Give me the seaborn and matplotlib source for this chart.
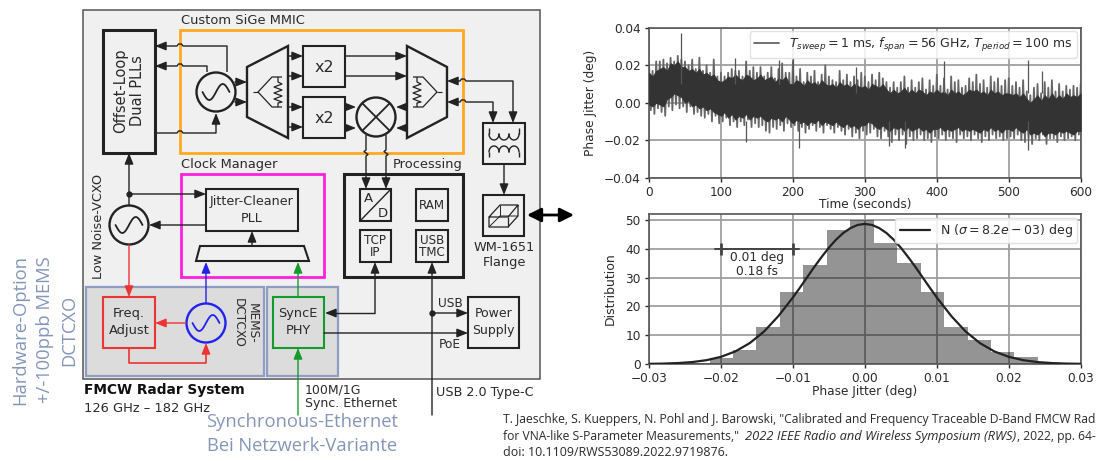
# FMCW radar block diagram with phase jitter measurement plots

import numpy as np
import matplotlib
matplotlib.use("Agg")
import matplotlib.pyplot as plt
import seaborn as sns
from matplotlib.patches import Circle, Polygon, Rectangle


# Phase jitter over time, upper and lower edge every 5 seconds
jitter_time = np.arange(0, 605, 5)
jitter_hi = [
    .021, .017, .022, .022, .023, .021, .024, .022, .025, .023,
    .022, .020, .023, .018, .024, .017, .020, .016, .023, .014,
    .016, .014, .016, .018, .017, .017, .014, .022, .017, .019,
    .016, .019, .014, .016, .019, .013, .018, .021, .016, .016,
    .022, .014, .018, .011, .016, .014, .017, .011, .015, .020,
    .014, .012, .011, .017, .012, .015, .011, .014, .012, .016,
    .014, .011, .015, .012, .016, .013, .011, .008, .011, .008,
    .011, .014, .008, .012, .008, .011, .013, .007, .012, .009,
    .015, .009, .013, .007, .014, .011, .012, .008, .009, .013,
    .011, .015, .010, .012, .008, .014, .011, .013, .009, .012,
    .013, .009, .011, .008, .012, .006, .004, .008, .010, .005,
    .011, .008, .012, .006, .010, .006, .009, .007, .009, .008,
    .010,
]
jitter_lo = [
    -.004, -.006, -.003, -.005, -.007, -.002, -.004, -.001, -.003, -.002,
    -.005, -.002, -.006, -.005, -.007, -.008, -.006, -.010, -.007, -.011,
    -.010, -.008, -.012, -.010, -.013, -.010, -.012, -.009, -.013, -.011,
    -.013, -.012, -.015, -.016, -.013, -.014, -.012, -.015, -.011, -.013,
    -.012, -.015, -.013, -.016, -.014, -.012, -.015, -.013, -.016, -.012,
    -.014, -.016, -.013, -.015, -.017, -.014, -.018, -.016, -.019, -.015,
    -.017, -.016, -.014, -.018, -.019, -.015, -.018, -.021, -.017, -.020,
    -.017, -.022, -.018, -.020, -.019, -.017, -.020, -.019, -.021, -.018,
    -.019, -.017, -.020, -.018, -.019, -.021, -.017, -.019, -.018, -.020,
    -.017, -.019, -.021, -.018, -.020, -.017, -.019, -.018, -.020, -.019,
    -.018, -.019, -.017, -.020, -.021, -.019, -.022, -.019, -.020, -.017,
    -.022, -.019, -.019, -.021, -.018, -.020, -.019, -.018, -.020, -.017,
    -.019,
]

# Dark core of the trace, same time steps
core_hi = [
    .016, .014, .017, .018, .019, .017, .021, .020, .022, .019,
    .019, .017, .018, .016, .018, .015, .016, .014, .015, .012,
    .011, .012, .014, .013, .015, .013, .012, .015, .014, .012,
    .013, .015, .012, .013, .014, .011, .013, .012, .014, .010,
    .010, .012, .011, .009, .012, .010, .011, .009, .012, .010,
    .009, .010, .008, .011, .009, .010, .008, .010, .009, .008,
    .009, .007, .010, .009, .008, .010, .007, .005, .007, .005,
    .006, .008, .005, .007, .005, .007, .006, .004, .006, .005,
    .007, .005, .006, .004, .007, .005, .006, .004, .005, .007,
    .006, .007, .005, .006, .004, .007, .005, .006, .004, .005,
    .005, .004, .005, .003, .005, .002, .000, .002, .004, .001,
    .004, .002, .005, .002, .004, .002, .005, .003, .004, .003,
    .005,
]
core_lo = [
    -.001, -.002, .000, -.001, -.002, .002, .003, .005, .004, .003,
    .000, .001, -.002, -.001, -.003, -.002, -.004, -.003, -.005, -.006,
    -.007, -.005, -.008, -.006, -.009, -.007, -.008, -.006, -.009, -.007,
    -.008, -.007, -.009, -.010, -.008, -.009, -.008, -.010, -.007, -.009,
    -.011, -.009, -.011, -.010, -.012, -.010, -.011, -.009, -.012, -.010,
    -.011, -.012, -.010, -.012, -.013, -.011, -.013, -.012, -.014, -.012,
    -.012, -.010, -.011, -.013, -.014, -.012, -.014, -.015, -.013, -.014,
    -.013, -.015, -.013, -.015, -.014, -.013, -.015, -.014, -.016, -.014,
    -.014, -.013, -.015, -.014, -.015, -.014, -.013, -.015, -.014, -.015,
    -.014, -.015, -.016, -.014, -.015, -.013, -.015, -.014, -.016, -.014,
    -.014, -.015, -.013, -.015, -.016, -.014, -.017, -.016, -.017, -.015,
    -.018, -.016, -.016, -.017, -.015, -.016, -.015, -.016, -.017, -.015,
    -.015,
]

# Single outliers
spike_time = [44, 120, 135, 180, 200, 208, 288, 333, 356, 410, 527, 527, 546]
spike_base = [.01, .01, -.01, .01, .01, -.01, .005, -.01, -.01, .005, .005, -.01, .005]
spike_peak = [.037, .024, -.021, .023, .024, -.024, .019, -.023, -.024, .022, .023, -.025, .017]

# Histogram of the phase jitter
bin_edges = [round(0.00123 + 0.00326 * k, 5) for k in range(-8, 9)]
bin_heights = [0.5, 2, 5, 13, 25, 34.5, 46.5, 50, 42, 35, 25, 13, 8.5, 4, 2.3, 0.3]

# Fitted normal curve
curve_x = [-.030, -.028, -.026, -.024, -.022, -.020, -.018, -.016, -.014, -.012,
           -.010, -.009, -.008, -.007, -.006, -.005, -.004, -.003, -.002, -.001,
           0, .001, .002, .003, .004, .005, .006, .007, .008, .009, .010,
           .012, .014, .016, .018, .020, .022, .024, .026, .028, .030]
curve_y = [.06, .14, .32, .67, 1.33, 2.49, 4.37, 7.25, 11.3, 16.7,
           23.1, 26.6, 30.2, 33.8, 37.2, 40.4, 43.2, 45.5, 47.2, 48.3,
           48.65, 48.3, 47.2, 45.5, 43.2, 40.4, 37.2, 33.8, 30.2, 26.6, 23.1,
           16.7, 11.3, 7.25, 4.37, 2.49, 1.33, .67, .32, .14, .06]

time_ticks = [0, 100, 200, 300, 400, 500, 600]
jitter_ticks = [-0.04, -0.02, 0.00, 0.02, 0.04]
phase_ticks = [-0.03, -0.02, -0.01, 0.00, 0.01, 0.02, 0.03]
dist_ticks = [0, 10, 20, 30, 40, 50]

W, H = 1097, 461
DARK = "#222222"
RED = "#ee3333"
BLUE = "#2222ee"
GREEN = "#159a2c"
ORANGE = "#ffa91f"
PINK = "#ff1fe0"
PANEL = "#8f9dc2"
SLATE = "#8496b8"
TEXT = "#2a2a2a"

sns.set_theme(style="whitegrid", rc={
    "axes.edgecolor": "#555555",
    "axes.linewidth": 1.2,
    "grid.color": "#a0a0a0",
    "grid.linewidth": 1.3,
    "xtick.bottom": True,
    "ytick.left": True,
    "xtick.color": TEXT,
    "ytick.color": TEXT,
    "axes.labelcolor": TEXT,
    "text.color": TEXT,
})
plt.rcParams["font.family"] = ["DejaVu Sans"]
plt.rcParams["mathtext.fontset"] = "dejavusans"

fig = plt.figure(figsize=(W / 100, H / 100), dpi=100)


def chart_axes(left, top, right, bottom):
    return fig.add_axes([left / W, 1 - bottom / H, (right - left) / W, (bottom - top) / H])


# Block diagram, drawn on a full figure axes in pixel units
dia = fig.add_axes([0, 0, 1, 1])
dia.set_xlim(0, W)
dia.set_ylim(H, 0)
dia.axis("off")


def box(x0, y0, x1, y1, color=DARK, lw=1.5, fill="none", z=2):
    dia.add_patch(Rectangle((x0, y0), x1 - x0, y1 - y0, fc=fill, ec=color, lw=lw, zorder=z))


def wire(points, color=DARK, lw=1.0):
    xs, ys = zip(*points)
    dia.plot(xs, ys, color=color, lw=lw, zorder=3, solid_capstyle="butt")


def arrow(x0, y0, x1, y1, color=DARK, lw=1.0):
    dia.annotate("", xy=(x1, y1), xytext=(x0, y0), zorder=4, arrowprops=dict(
        arrowstyle="-|>,head_length=0.55,head_width=0.22",
        color=color, lw=lw, shrinkA=0, shrinkB=0))


def hop_x(x, y):
    # small bump where a horizontal wire crosses a box edge
    return [(x + 3, y), (x + 1.5, y - 2), (x - 1.5, y - 2), (x - 3, y)]


def hop_y(x, y):
    return [(x, y - 3), (x - 2, y - 1.5), (x + 2, y + 1.5), (x, y + 3)]


def oscillator(cx, cy, color=DARK, r=19.5):
    dia.add_patch(Circle((cx, cy), r, fc="none", ec=color, lw=1.7, zorder=3))
    sx = np.linspace(-13.5, 13.5, 40)
    dia.plot(cx + sx, cy - 8 * np.sin(sx / 13.5 * np.pi), color=color, lw=1.3, zorder=3)


def label(x, y, s, size=9.2, ha="center", va="center", **kw):
    dia.text(x, y, s, fontsize=size, ha=ha, va=va, zorder=5, color=kw.pop("color", TEXT),
             linespacing=kw.pop("linespacing", 1.1), **kw)


def divider(tip, ox, sign):
    # Wilkinson symbol inside the splitter and combiner
    inner = ox + sign * 14
    outer = ox + sign * 24
    wire([(ox - sign * 5, 92), (ox, 92)], lw=0.8)
    wire([(outer, 77), (inner, 77), (ox, 92), (inner, 107), (outer, 107)], lw=0.9)
    wire([(tip, 77), (tip, 82), (tip + 4, 84), (tip - 4, 87), (tip + 4, 90), (tip - 4, 93),
          (tip + 4, 96), (tip - 4, 99), (tip + 4, 102), (tip, 103), (tip, 107)], lw=0.9)


# Outer panel
box(83, 10, 539.5, 379, color="#555555", lw=1.1, fill="#f0f0f0", z=1)
box(86, 287, 264, 376, color=PANEL, lw=1.6, fill="#dcdcdc", z=1)
box(267, 287, 338, 376, color=PANEL, lw=1.6, fill="#dcdcdc", z=1)

# Frequency generation
box(180, 30, 463, 153, color=ORANGE, lw=2)
box(103, 30, 155, 153, lw=2.2)
label(129, 91, "Offset-Loop\nDual PLLs", size=10.5, rotation=90)
label(181, 20, "Custom SiGe MMIC", ha="left", size=9.4)
label(181, 164, "Clock Manager", ha="left", size=9.4)
label(463, 164, "Processing", ha="right", size=9.4)

oscillator(216, 92)
wire([(227, 72), (227, 46), *hop_x(180, 46), (165, 46)])
arrow(165, 46, 155, 46)
wire([(207, 72), (207, 66), *hop_x(180, 66), (165, 66)])
arrow(165, 66, 155, 66)
wire([(155, 133), *hop_x(180, 133)[::-1], (216, 133), (216, 125)])
arrow(216, 125, 216, 113)
arrow(235, 82, 247, 82)
arrow(235, 102, 247, 102)

dia.add_patch(Polygon([(247, 67), (288, 46), (288, 138), (247, 117)], fc="none", ec=DARK, lw=1.7, zorder=3))
dia.add_patch(Polygon([(407, 46), (447, 67), (447, 117), (407, 138)], fc="none", ec=DARK, lw=1.7, zorder=3))
divider(278, 258, 1)
divider(417, 437, -1)

box(303, 46, 345, 87)
box(303, 97, 345, 138)
label(324, 67, "x2", size=11.5)
label(324, 118, "x2", size=11.5)
for y in [56, 76, 107, 127]:
    arrow(288, y, 303, y)
arrow(345, 56, 407, 56)
arrow(345, 76, 407, 76)
arrow(345, 107, 356, 107)
arrow(345, 128, 356, 128)
arrow(407, 107, 396, 107)
arrow(407, 128, 396, 128)

# Mixer
dia.add_patch(Circle((376, 117), 19.5, fc="none", ec=DARK, lw=1.7, zorder=3))
wire([(362, 103), (390, 131)], lw=1.3)
wire([(362, 131), (390, 103)], lw=1.3)
for x in [366, 386]:
    wire([(x, 135), *hop_y(x, 153), (x, 178)])
    arrow(x, 178, x, 189)

# LO port and transformer
wire([(457, 81), *hop_x(463, 81)[::-1], (513, 81), (513, 112)])
arrow(457, 81, 447, 81)
arrow(513, 112, 513, 123)
wire([(457, 102), *hop_x(463, 102)[::-1], (493, 102), (493, 112)])
arrow(457, 102, 447, 102)
arrow(493, 112, 493, 123)
box(483, 123, 525, 164)
arc = np.linspace(0, np.pi, 16)
for x in [494, 504, 514]:
    dia.plot(x + 5 * np.cos(arc), 134 + 6 * np.sin(arc), color=DARK, lw=1.0, zorder=3)
    dia.plot(x + 5 * np.cos(arc), 152 - 6 * np.sin(arc), color=DARK, lw=1.0, zorder=3)
wire([(489, 128), (489, 134)])
wire([(519, 128), (519, 134)])
wire([(489, 152), (489, 157)])
wire([(519, 152), (519, 157)])
arrow(504, 164, 504, 195)

# Waveguide flange
box(483, 195, 524, 236)
wire([(489, 217), (500, 205), (518, 205), (508, 217), (489, 217), (489, 227), (508, 227),
      (518, 216), (518, 205)], lw=0.9)
wire([(508, 217), (508, 227)], lw=0.9)
wire([(489, 227), (500, 216), (518, 216)], lw=0.7)
wire([(500, 205), (500, 216)], lw=0.7)
label(504, 255, "WM-1651\nFlange", size=9.3, linespacing=1.25)
dia.annotate("", xy=(574, 215), xytext=(527, 215), zorder=4, arrowprops=dict(
    arrowstyle="<|-|>,head_length=0.7,head_width=0.35", color="black", lw=2.0, shrinkA=0, shrinkB=0))

# Clock manager
box(181, 174, 324, 277, color=PINK, lw=2)
box(206, 189, 298, 231)
label(252, 210, "Jitter-Cleaner\nPLL", size=9.2, linespacing=1.35)
dia.add_patch(Polygon([(196, 261), (200, 246), (304, 246), (309, 261)], fc="none", ec=DARK, lw=1.5, zorder=3))
arrow(252, 246, 252, 231)
oscillator(129, 225)
arrow(129, 205, 129, 153)
dia.plot([129], [194], "o", color=DARK, ms=3.5, zorder=4)
arrow(129, 194, 206, 194)
arrow(206, 225, 149, 225)
label(99, 226, "Low Noise-VCXO", size=9.3, rotation=90)

# Hardware option
arrow(129, 245, 129, 297, color=RED)
box(103, 297, 155, 348, color=RED, lw=1.5)
label(129, 322, "Freq.\nAdjust", size=9.4, linespacing=1.35)
oscillator(206, 323, color=BLUE)
arrow(186, 323, 155, 323, color=RED)
wire([(129, 348), (129, 363), (206, 363), (206, 352)], color=RED, lw=1.2)
arrow(206, 352, 206, 343, color=RED)
arrow(206, 303, 206, 262, color=BLUE)
label(245, 323, "MEMS-\nDCTCXO", size=8.7, rotation=-90)

# Sync ethernet
box(273, 297, 324, 348, color=GREEN, lw=1.5)
label(298, 322, "SyncE\nPHY", size=9.3, linespacing=1.35)
arrow(298, 297, 298, 262, color=GREEN)
arrow(298, 415, 298, 348, color=GREEN)

# Processing
box(344, 174, 463, 277, lw=2.2)
box(360, 189, 391, 221)
wire([(360, 221), (391, 189)])
label(368, 198, "A", size=9.5)
label(383, 213, "D", size=9.5)
box(416, 189, 448, 221)
label(432, 205, "RAM", size=8.6)
box(360, 230, 391, 262)
label(375.5, 246, "TCP\nIP", size=8.6, linespacing=0.9)
box(416, 230, 448, 262)
label(432, 246, "USB\nTMC", size=8.6, linespacing=0.9)

# Power and external connections
box(468, 297, 519, 348)
label(493.5, 322, "Power\nSupply", size=9, linespacing=1.35)
arrow(375, 313, 375, 262)
wire([(375, 313), (335, 313)])
arrow(335, 313, 325, 313)
arrow(432, 415, 432, 262)
dia.plot([432], [313], "o", color=DARK, ms=3.5, zorder=4)
arrow(432, 313, 468, 313)
arrow(324, 333, 468, 333)
label(450, 303, "USB", size=8.7)
label(450, 344, "PoE", size=8.7)

# Captions below the panel
label(84, 390, "FMCW Radar System", ha="left", size=9.9, fontweight="bold", color="#111111")
label(84, 408, "126 GHz – 182 GHz", ha="left", size=9.4)
label(305, 390, "100M/1G", ha="left", size=9)
label(305, 403, "Sync. Ethernet", ha="left", size=9)
label(436, 392, "USB 2.0 Type-C", ha="left", size=9.2)

label(302, 422, "Synchronous-Ethernet", size=13.2, family="Open Sans", color=SLATE)
label(302, 446, "Bei Netzwerk-Variante", size=13.2, family="Open Sans", color=SLATE)
label(20, 330, "Hardware-Option", size=13.2, family="Open Sans", color=SLATE, rotation=90)
label(45, 330, "+/-100ppb MEMS", size=13.2, family="Open Sans", color=SLATE, rotation=90)
label(69, 330, "DCTCXO", size=13.2, family="Open Sans", color=SLATE, rotation=90)

# Citation, the first two lines run off the page
label(503, 419, 'T. Jaeschke, S. Kueppers, N. Pohl and J. Barowski, "Calibrated and Frequency Traceable D-Band FMCW Rad',
      ha="left", size=8.7, family="Open Sans")
label(503, 436, 'for VNA-like S-Parameter Measurements,"', ha="left", size=8.7, family="Open Sans")
label(745, 436, "2022 IEEE Radio and Wireless Symposium (RWS)", ha="left", size=9.3,
      family="Open Sans", style="italic")
label(1017, 436, ", 2022, pp. 64-", ha="left", size=8.7, family="Open Sans")
label(503, 452, "doi: 10.1109/RWS53089.2022.9719876.", ha="left", size=8.9, family="Open Sans")


# Phase jitter over time
ax_time = chart_axes(649, 27.7, 1080.7, 177.7)
zig_x = np.ravel(np.column_stack([jitter_time, jitter_time + 2.5]))[:-1]
zig_y = np.ravel(np.column_stack([jitter_hi, jitter_lo]))[:-1]
sns.lineplot(
    x=zig_x, y=zig_y, ax=ax_time, sort=False, estimator=None,
    color="#666666", linewidth=1.3,
    label=r"$T_{sweep} = 1$ ms, $f_{span} = 56$ GHz, $T_{period} = 100$ ms",
)
ax_time.fill_between(jitter_time, core_lo, core_hi, color="#333333", lw=0.6, zorder=3)
ax_time.vlines(spike_time, spike_base, spike_peak, color="#555555", lw=0.9, zorder=3)
ax_time.set_xlim(0, 600)
ax_time.set_ylim(-0.04, 0.04)
ax_time.set_xticks(time_ticks)
ax_time.set_yticks(jitter_ticks)
ax_time.set_yticklabels(["−0.04", "−0.02", "0.00", "0.02", "0.04"])
ax_time.tick_params(labelsize=8.7, length=3, pad=3, width=1)
ax_time.set_xlabel("Time (seconds)", fontsize=8.7, labelpad=-0.5)
ax_time.set_ylabel("Phase Jitter (deg)", fontsize=8.8, labelpad=5)
ax_time.legend(loc="upper right", fontsize=9, frameon=True, framealpha=0.85, edgecolor="#dddddd",
               borderaxespad=0.3, handlelength=2, borderpad=0.35, labelcolor=TEXT)

# Histogram with the normal fit
ax_hist = chart_axes(649, 214, 1080.7, 364)
bin_centers = [(a + b) / 2 for a, b in zip(bin_edges[:-1], bin_edges[1:])]
sns.histplot(
    x=bin_centers, weights=bin_heights, bins=bin_edges, ax=ax_hist,
    color="black", alpha=0.42, linewidth=0, zorder=2,
)
sns.lineplot(
    x=curve_x, y=curve_y, ax=ax_hist, sort=False, estimator=None, zorder=4,
    color=DARK, linewidth=1.6, label=r"N ($\sigma = 8.2e-03$) deg",
)
ax_hist.plot([-0.0208, -0.0092], [40, 40], color="#444444", lw=1.4, zorder=4)
ax_hist.plot([-0.02, -0.01], [40, 40], "|", color="#444444", ms=8, mew=2, zorder=4)
ax_hist.text(-0.015, 34.5, "0.01 deg\n0.18 fs", fontsize=8.8, ha="center", va="center",
             linespacing=1.1, zorder=5)
ax_hist.set_xlim(-0.03, 0.03)
ax_hist.set_ylim(0, 52.1)
ax_hist.set_xticks(phase_ticks)
ax_hist.set_xticklabels(["−0.03", "−0.02", "−0.01", "0.00", "0.01", "0.02", "0.03"])
ax_hist.set_yticks(dist_ticks)
ax_hist.tick_params(labelsize=8.7, length=3, pad=3, width=1)
ax_hist.set_xlabel("Phase Jitter (deg)", fontsize=8.7, labelpad=0)
ax_hist.set_ylabel("Distribution", fontsize=9, labelpad=6)
ax_hist.set_axisbelow(True)
ax_hist.legend(loc="upper right", fontsize=9, frameon=True, framealpha=0.85, edgecolor="#dddddd",
               borderaxespad=0.3, handlelength=2.4, borderpad=0.35, labelcolor=TEXT)

fig.savefig("out.png", dpi=100)
